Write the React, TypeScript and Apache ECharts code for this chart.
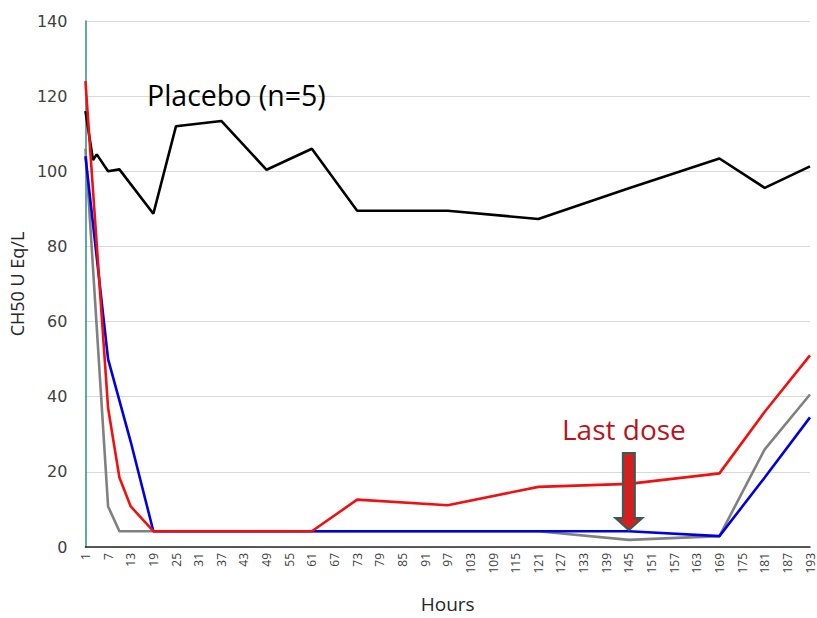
import React, { useEffect, useRef } from "react";
import * as echarts from "echarts";

const placeboHours = [1, 3, 4, 7, 10, 19, 25, 37, 49, 61, 73, 97, 121, 145, 169, 181, 193];
const placeboValues = [116, 103, 104.5, 100, 100.5, 88.7, 112, 113.4, 100.4, 106, 89.5, 89.5, 87.3, 95.5, 103.4, 95.6, 101.3];

const redHours = [1, 7, 10, 13, 19, 61, 73, 97, 121, 145, 169, 181, 193];
const redValues = [124, 37, 18.5, 10.8, 4.2, 4.2, 12.6, 11.1, 16, 16.8, 19.6, 36, 51];

const blueHours = [1, 7, 13, 19, 121, 145, 169, 181, 193];
const blueValues = [104, 50, 28, 4.2, 4.2, 4.2, 2.9, 18.5, 34.5];

const grayHours = [1, 7, 10, 121, 145, 169, 181, 193];
const grayValues = [106, 10.8, 4.2, 4.2, 1.9, 2.9, 26, 40.6];

const lastDoseHour = 145;
const arrowTopValue = 25;
const arrowTipValue = 4.5;

const pair = (h: number[], v: number[]) => h.map((x, i) => [x, v[i]]);

const FONT = "'Open Sans', 'Noto Sans', sans-serif";

export default function App() {
  const ref = useRef<HTMLDivElement>(null);
  useEffect(() => {
    if (!ref.current) return;
    const chart = echarts.init(ref.current, null, { renderer: "svg" });
    const lineSeries = (name: string, data: number[][], color: string) => ({
      name,
      type: "line",
      data,
      symbol: "none",
      lineStyle: { color, width: 2.6 },
      itemStyle: { color },
    });
    chart.setOption({
      animation: false,
      backgroundColor: "#ffffff",
      grid: { left: 82, right: 7, top: 21, bottom: 67 },
      xAxis: {
        type: "value",
        min: 1,
        max: 193,
        interval: 6,
        name: "Hours",
        nameLocation: "middle",
        nameGap: 47,
        nameTextStyle: { fontFamily: FONT, fontSize: 19, color: "#262626" },
        axisLine: { show: true, lineStyle: { color: "#262626", width: 1.5 } },
        axisTick: { show: false },
        splitLine: { show: false },
        axisLabel: {
          rotate: 90,
          fontFamily: FONT,
          fontSize: 12,
          color: "#404040",
          margin: 6,
        },
      },
      yAxis: {
        type: "value",
        min: 0,
        max: 140,
        interval: 20,
        name: "CH50 U Eq/L",
        nameLocation: "middle",
        nameGap: 55,
        nameTextStyle: { fontFamily: FONT, fontSize: 18, color: "#262626" },
        axisLine: { show: true, lineStyle: { color: "#2e8a8a", width: 1.5 } },
        axisTick: { show: false },
        splitLine: { show: true, lineStyle: { color: "#d9d9d9", width: 1.2 } },
        axisLabel: { fontFamily: "'DejaVu Sans', sans-serif", fontSize: 16, color: "#404040", margin: 18 },
      },
      series: [
        lineSeries("Placebo", pair(placeboHours, placeboValues), "#000000"),
        lineSeries("Gray", pair(grayHours, grayValues), "#808080"),
        lineSeries("Blue", pair(blueHours, blueValues), "#0000e0"),
        lineSeries("Red", pair(redHours, redValues), "#f01010"),
      ],
    });

    const top = chart.convertToPixel({ gridIndex: 0 }, [lastDoseHour, arrowTopValue]) as number[];
    const tip = chart.convertToPixel({ gridIndex: 0 }, [lastDoseHour, arrowTipValue]) as number[];
    const cx = tip[0];
    const shaftHalf = 6;
    const headHalf = 13.5;
    const headH = 12;
    const arrowPts = [
      [cx - shaftHalf, top[1]],
      [cx + shaftHalf, top[1]],
      [cx + shaftHalf, tip[1] - headH],
      [cx + headHalf, tip[1] - headH],
      [cx, tip[1]],
      [cx - headHalf, tip[1] - headH],
      [cx - shaftHalf, tip[1] - headH],
    ];

    chart.setOption({
      graphic: [
        {
          type: "text",
          left: 147,
          top: 80,
          style: { text: "Placebo (n=5)", fontFamily: FONT, fontSize: 28.5, fill: "#000000" },
        },
        {
          type: "text",
          left: 562,
          top: 415,
          style: { text: "Last dose", fontFamily: FONT, fontSize: 28, fill: "#b8141c" },
        },
        {
          type: "polygon",
          shape: { points: arrowPts },
          style: { fill: "#d41f1f", stroke: "#2f5f5c", lineWidth: 2 },
          z: 100,
        },
      ],
    });

    return () => chart.dispose();
  }, []);
  return (
    <div
      ref={ref}
      style={{ position: "absolute", left: 0, top: 0, width: 817, height: 618 }}
    />
  );
}
